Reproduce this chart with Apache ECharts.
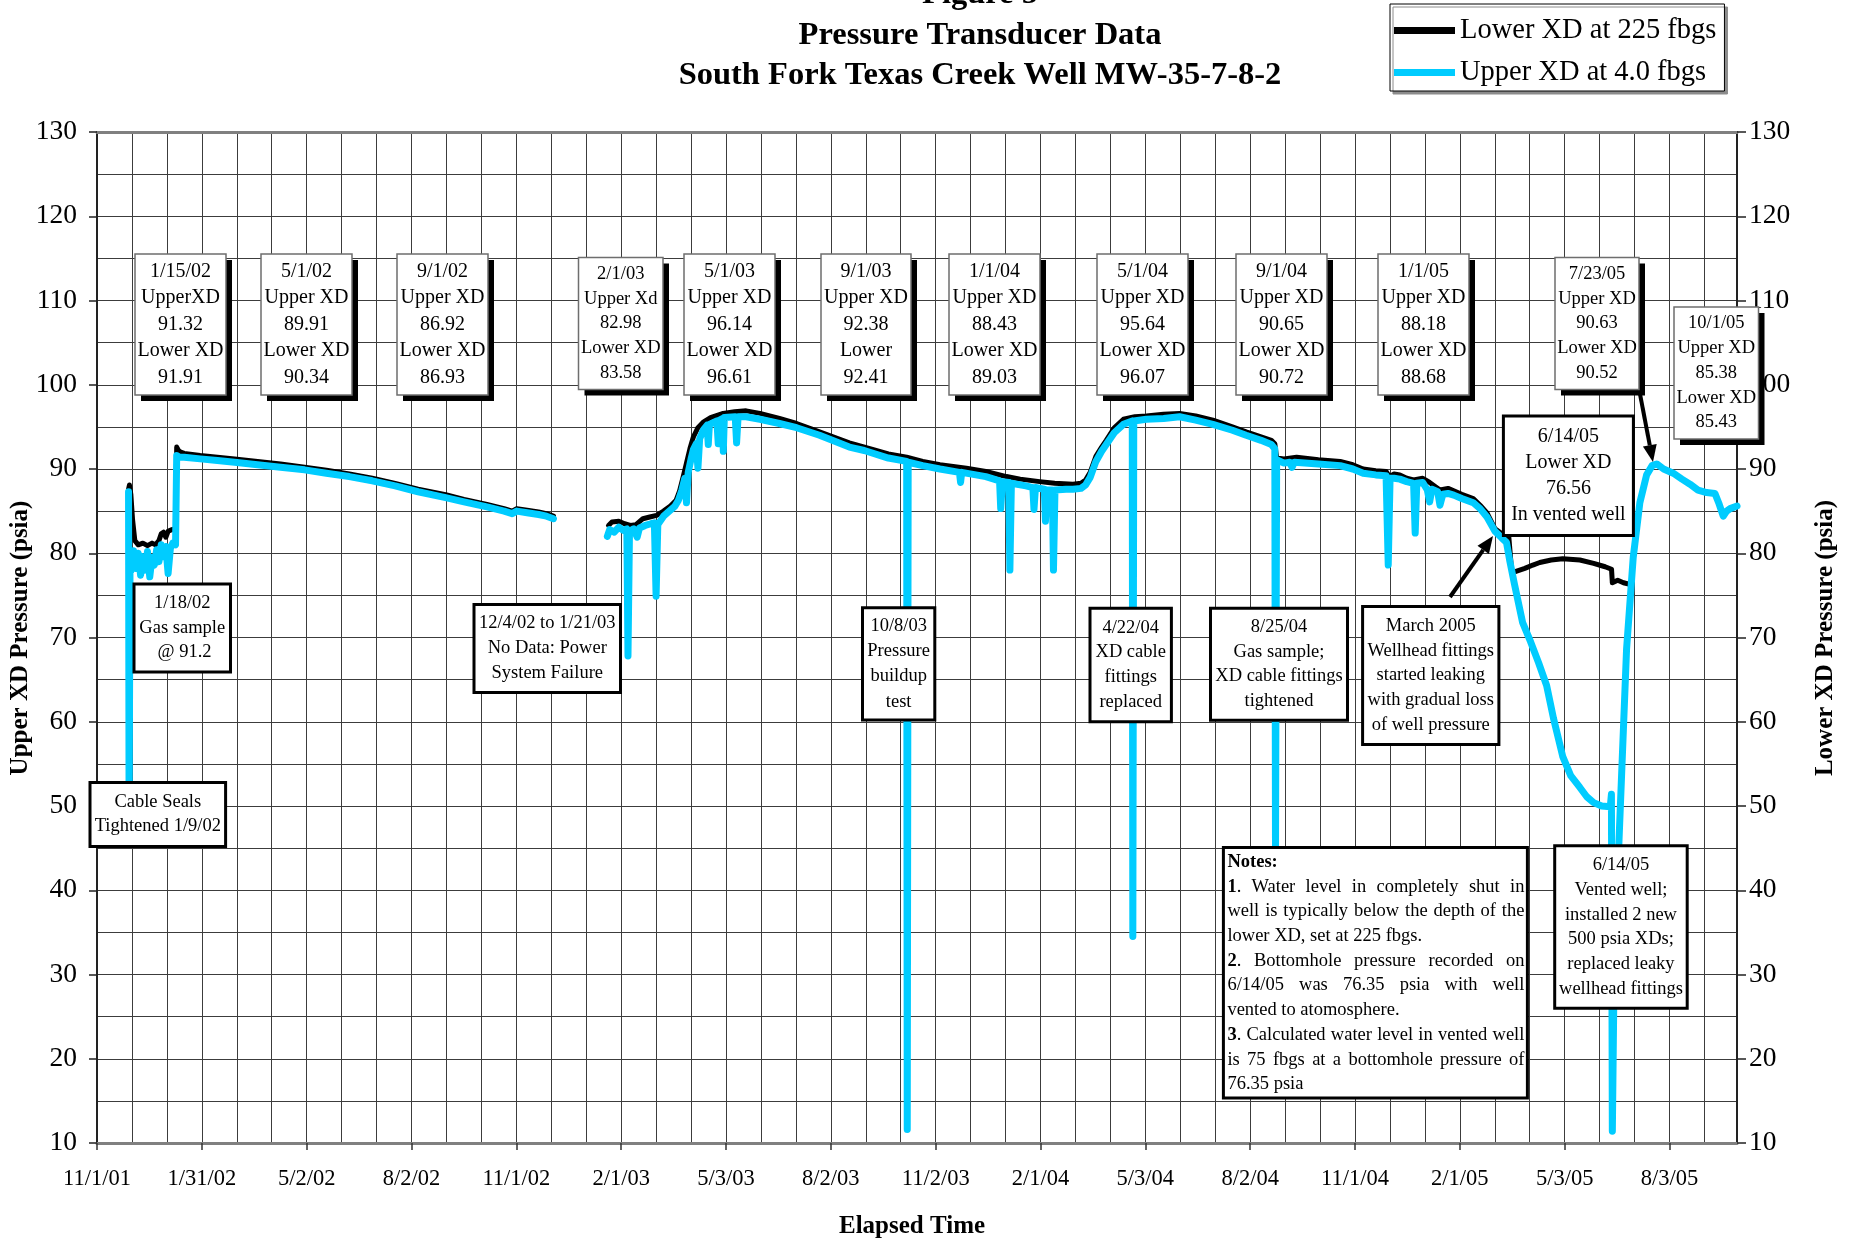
<!DOCTYPE html>
<html>
<head>
<meta charset="utf-8">
<title>Pressure Transducer Data</title>
<script src="https://cdn.jsdelivr.net/npm/echarts@6/dist/echarts.min.js"></script>
<style>
html, body { margin: 0; padding: 0; background: #fff; }
#chart { width: 1853px; height: 1238px; }
</style>
</head>
<body>
<div id="chart"></div>
<script>
// x = days after 11/1/01, y = psia
// 1 Lower XD (225 fbgs), before and after the power failure gap
var lowerXd2002 = [
	[27.5, 87.6], [28.3, 88.1], [29.5, 87.0], [31, 84.0], [33, 81.5], [36, 81.0], [40, 81.2],
	[44, 80.9], [48, 81.2], [51, 81.0], [54, 81.5], [56, 82.3], [58, 82.5], [60, 81.9],
	[62, 82.6], [65, 82.8], [68.5, 82.9], [69.5, 92.6], [71, 92.2], [73, 92.0], [76, 91.85],
	[90, 91.6], [105, 91.4], [120, 91.2], [140, 90.9], [160, 90.6], [181, 90.2], [200, 89.85],
	[220, 89.4], [240, 88.9], [260, 88.3], [280, 87.6], [304, 86.95], [320, 86.4], [340, 85.8],
	[355, 85.3], [362, 85.0], [366, 85.3], [375, 85.1], [385, 84.9], [392, 84.7], [398, 84.4]
];
var lowerXd2003 = [
	[446, 83.3], [449, 83.7], [455, 83.8], [460, 83.5], [465, 83.3], [470, 83.4], [476, 84.1],
	[482, 84.3], [488, 84.5], [494, 85.0], [500, 85.6], [505, 86.3], [508, 87.4], [511, 89.0],
	[514, 90.7], [517, 92.4], [520, 93.8], [524, 94.9], [529, 95.6], [535, 96.1], [546, 96.6],
	[556, 96.8], [566, 96.9], [578, 96.6], [595, 96.0], [610, 95.4], [630, 94.4], [656, 93.1],
	[677, 92.3], [690, 91.8], [706, 91.4], [720, 90.9], [735, 90.5], [758, 90.1], [775, 89.7],
	[793, 89.1], [805, 88.8], [822, 88.5], [835, 88.3], [851, 88.2], [858, 88.3], [862, 88.7],
	[866, 89.6], [871, 91.5], [876, 92.6], [880, 93.4], [887, 94.9], [895, 95.9], [905, 96.2],
	[915, 96.3], [930, 96.5], [944, 96.6], [958, 96.3], [973, 95.8], [990, 95.0], [1002, 94.4],
	[1015, 93.8], [1024, 93.4], [1027, 93.0], [1028.6, 91.3], [1035, 91.2], [1046, 91.4],
	[1065, 91.1], [1084, 90.9], [1095, 90.5], [1104, 90.0], [1115, 89.8], [1124, 89.7],
	[1127, 89.1], [1131, 89.4], [1136, 89.3], [1142, 88.9], [1148, 88.7], [1156, 88.9],
	[1162, 88.4], [1171, 87.5], [1178, 87.7], [1183, 87.4], [1190, 87.0], [1200, 86.5],
	[1206, 85.7], [1212, 84.8], [1219, 82.9], [1225, 82.3], [1231, 82.0], [1233.5, 77.9],
	[1236, 77.8], [1245, 78.2], [1252, 78.6], [1258, 78.9], [1268, 79.2], [1278, 79.35],
	[1293, 79.2], [1305, 78.8], [1315, 78.4], [1320.6, 78.1], [1321.3, 76.5], [1326, 76.8],
	[1331, 76.5], [1336.6, 76.3]
];
// 2 Upper XD (4.0 fbgs)
var upperXd2002 = [
	[27.5, 87.3], [28.0, 48.0], [28.8, 79.5], [30, 78.0], [32, 80.3], [34, 78.2], [36, 80.0],
	[38, 77.4], [40, 79.6], [42, 78.0], [44, 80.2], [46, 77.2], [48, 79.5], [50, 78.6],
	[52, 80.4], [54, 79.0], [56, 81.0], [58, 79.6], [60, 80.8], [62, 77.6], [64, 80.6],
	[66, 81.2], [68.5, 81.0], [69.5, 91.6], [72, 91.4], [76, 91.4], [90, 91.2], [105, 91.0],
	[120, 90.8], [140, 90.5], [160, 90.2], [181, 89.9], [200, 89.5], [220, 89.1], [240, 88.6],
	[260, 88.0], [280, 87.3], [304, 86.6], [320, 86.1], [340, 85.5], [355, 85.0], [362, 84.7],
	[366, 85.0], [375, 84.8], [385, 84.6], [392, 84.4], [398, 84.1]
];
var upperXd2003 = [
	[445, 82.0], [447, 82.8], [451, 82.5], [455, 83.1], [459, 82.7], [462, 82.9], [463, 67.8],
	[464.3, 82.6], [468, 82.9], [471, 81.9], [473, 83.0], [478, 83.3], [483, 83.5], [486, 83.6],
	[487.5, 74.9], [489, 83.4], [494, 84.4], [499, 85.0], [504, 85.6], [507, 86.3], [510, 87.5],
	[512.5, 88.9], [514, 86.0], [515.5, 89.6], [518, 91.2], [520, 92.3], [522.5, 93.0],
	[524, 90.1], [525.5, 93.6], [529, 94.7], [532, 95.2], [533, 92.9], [534, 95.3],
	[540.5, 95.7], [541.7, 93.0], [543, 95.8], [545.5, 96.0], [546.1, 92.1], [547, 96.1],
	[556.5, 96.2], [557.7, 93.1], [559, 96.2], [566, 96.2], [578, 95.9], [595, 95.4],
	[610, 94.9], [630, 94.0], [656, 92.6], [669, 92.2], [690, 91.3], [706, 90.9], [706.5, 11.6],
	[707.3, 90.8], [720, 90.4], [735, 90.0], [752, 89.6], [753, 88.4], [754, 89.6], [775, 89.1],
	[787, 88.6], [788, 85.3], [789.5, 88.5], [795, 88.4], [796, 78.0], [797.3, 88.3],
	[810, 88.0], [816, 87.8], [817, 85.2], [818.3, 87.8], [826, 87.6], [827, 83.8],
	[828.3, 87.5], [833, 87.5], [834, 78.0], [835.3, 87.5], [845, 87.6], [851, 87.6],
	[858, 87.7], [862, 88.1], [866, 89.0], [871, 90.9], [876, 92.1], [880, 92.9], [887, 94.3],
	[895, 95.3], [902.7, 95.7], [903.2, 34.5], [904, 95.7], [915, 95.9], [930, 96.0],
	[944, 96.2], [958, 95.8], [973, 95.3], [990, 94.6], [1002, 94.0], [1015, 93.4],
	[1024, 92.9], [1027, 92.4], [1027.6, 44.0], [1028.6, 91.1], [1035, 90.7], [1040, 90.8],
	[1042, 90.2], [1044, 90.8], [1065, 90.6], [1084, 90.4], [1095, 90.0], [1104, 89.5],
	[1115, 89.3], [1124, 89.2], [1125.9, 78.6], [1127.5, 88.9], [1131, 88.9], [1136, 88.8],
	[1142, 88.5], [1148, 88.3], [1149.4, 82.4], [1150.8, 88.3], [1156, 88.4], [1160, 87.5],
	[1162, 86.1], [1164, 87.6], [1169, 87.3], [1171, 85.7], [1173.5, 87.0], [1178, 87.1],
	[1183, 86.9], [1190, 86.5], [1200, 86.0], [1206, 85.3], [1212, 84.3], [1219, 82.6],
	[1225, 81.8], [1229, 81.3], [1232, 79.0], [1236, 76.3], [1243, 71.8], [1250, 69.5],
	[1257, 67.0], [1264, 64.3], [1270, 60.4], [1278, 55.9], [1285, 53.6], [1293, 52.2],
	[1299, 51.1], [1305, 50.4], [1312, 50.0], [1319.5, 49.9], [1320.5, 51.4], [1321.3, 11.4],
	[1322.5, 26.0], [1327, 45.5], [1333.7, 68.6], [1339.5, 79.5], [1345.3, 86.0],
	[1351.2, 89.3], [1356, 90.4], [1360, 90.6], [1366, 90.0], [1374.4, 89.5], [1382, 88.8],
	[1389, 88.2], [1396, 87.5], [1403.5, 87.2], [1410.8, 87.1], [1414, 86.0], [1418, 84.4],
	[1421, 85.0], [1424, 85.3], [1430, 85.6]
];
// 3 no data between 12/4/02 and 1/21/03
var gapDay = 420;

// axis ticks
var xMax = 1430;
var xInterval = 91.41;
var xTickLabels = ['11/1/01', '1/31/02', '5/2/02', '8/2/02', '11/1/02', '2/1/03', '5/3/03',
	'8/2/03', '11/2/03', '2/1/04', '5/3/04', '8/2/04', '11/1/04', '2/1/05', '5/3/05', '8/3/05'];
var yMin = 10, yMax = 130, yInterval = 10;

// annotation boxes (pixel layout)
var valueNotes = [
	{ x: 135, y: 254, w: 91, h: 141, size: 20, lh: 26.5, lines: ['1/15/02', 'UpperXD', '91.32', 'Lower XD', '91.91'] },
	{ x: 261, y: 254, w: 91, h: 141, size: 20, lh: 26.5, lines: ['5/1/02', 'Upper XD', '89.91', 'Lower XD', '90.34'] },
	{ x: 397, y: 254, w: 91, h: 141, size: 20, lh: 26.5, lines: ['9/1/02', 'Upper XD', '86.92', 'Lower XD', '86.93'] },
	{ x: 578.5, y: 257.5, w: 84.5, h: 132, size: 18.5, lh: 24.75, lines: ['2/1/03', 'Upper Xd', '82.98', 'Lower XD', '83.58'] },
	{ x: 684, y: 254, w: 91, h: 141, size: 20, lh: 26.5, lines: ['5/1/03', 'Upper XD', '96.14', 'Lower XD', '96.61'] },
	{ x: 821, y: 254, w: 90, h: 141, size: 20, lh: 26.5, lines: ['9/1/03', 'Upper XD', '92.38', 'Lower', '92.41'] },
	{ x: 949, y: 254, w: 91, h: 141, size: 20, lh: 26.5, lines: ['1/1/04', 'Upper XD', '88.43', 'Lower XD', '89.03'] },
	{ x: 1097, y: 254, w: 91, h: 141, size: 20, lh: 26.5, lines: ['5/1/04', 'Upper XD', '95.64', 'Lower XD', '96.07'] },
	{ x: 1236, y: 254, w: 91, h: 141, size: 20, lh: 26.5, lines: ['9/1/04', 'Upper XD', '90.65', 'Lower XD', '90.72'] },
	{ x: 1378, y: 254, w: 91, h: 141, size: 20, lh: 26.5, lines: ['1/1/05', 'Upper XD', '88.18', 'Lower XD', '88.68'] },
	{ x: 1555, y: 257.5, w: 84, h: 132, size: 18.5, lh: 24.75, lines: ['7/23/05', 'Upper XD', '90.63', 'Lower XD', '90.52'] },
	{ x: 1674, y: 307, w: 84.5, h: 132, size: 18.5, lh: 24.75, lines: ['10/1/05', 'Upper XD', '85.38', 'Lower XD', '85.43'] }
];
var eventNotes = [
	{ x: 134, y: 584, w: 96.5, h: 88, size: 18.5, lh: 24.5, lines: ['1/18/02', 'Gas sample', ' @ 91.2'] },
	{ x: 474, y: 604.5, w: 146.5, h: 88, size: 18.5, lh: 24.9, lines: ['12/4/02 to 1/21/03', 'No Data: Power', 'System Failure'] },
	{ x: 862.5, y: 607.7, w: 72.3, h: 112.3, size: 18.5, lh: 25.2, lines: ['10/8/03', 'Pressure', 'buildup', 'test'] },
	{ x: 1090, y: 608.3, w: 81.4, h: 113.4, size: 18.5, lh: 24.8, lines: ['4/22/04', 'XD cable', 'fittings', 'replaced'] },
	{ x: 1210.5, y: 608.2, w: 137, h: 112, size: 18.5, lh: 24.6, lines: ['8/25/04', 'Gas sample;', 'XD cable fittings', 'tightened'] },
	{ x: 1362.6, y: 606.6, w: 136.3, h: 137.8, size: 18.5, lh: 24.6, lines: ['March 2005', 'Wellhead fittings', 'started leaking', 'with gradual loss', 'of well pressure'] },
	{ x: 90, y: 782.4, w: 135.6, h: 64.1, size: 18.5, lh: 24, lines: ['Cable Seals', 'Tightened 1/9/02'] },
	{ x: 1503.4, y: 416, w: 130, h: 119.4, size: 20, lh: 26, lines: ['6/14/05', 'Lower XD', '76.56', 'In vented well'] },
	{ x: 1554.7, y: 845.8, w: 132.5, h: 162.4, size: 18.5, lh: 24.7, lines: ['6/14/05', 'Vented well;', 'installed 2 new', '500 psia XDs;', 'replaced leaky', 'wellhead fittings'] }
];
var notesBox = { x: 1223.4, y: 847.6, w: 304, h: 250.4 };
var notesLines = [
	{ text: 'Notes:', bold: true },
	{ text: '1. Water level in completely shut in', justify: true },
	{ text: 'well is typically below the depth of the', justify: true },
	{ text: 'lower XD, set at 225 fbgs.' },
	{ text: '2. Bottomhole pressure recorded on', justify: true },
	{ text: '6/14/05 was 76.35 psia with well', justify: true },
	{ text: 'vented to atomosphere.' },
	{ text: '3. Calculated water level in vented well', justify: true },
	{ text: 'is 75 fbgs at a bottomhole pressure of', justify: true },
	{ text: '76.35 psia' }
];

var SERIF = '"Liberation Serif", "Times New Roman", serif';

function withGap(a, b) {
	return a.concat([[gapDay, null]], b);
}

function textEl(x, y, str, font, align, z) {
	return {
		type: 'text', x: x, y: y, z: z || 52,
		style: {
			text: str, font: font, fill: '#000',
			align: align || 'center', textAlign: align || 'center',
			verticalAlign: 'middle', textVerticalAlign: 'middle'
		}
	};
}

// box with black drop shadow or with heavy border
function noteBox(b, shadow) {
	var els = [];
	if (shadow) {
		els.push({ type: 'rect', z: 50, shape: { x: b.x + 6, y: b.y + 6, width: b.w, height: b.h }, style: { fill: '#000' } });
	}
	els.push({
		type: 'rect', z: 51, shape: { x: b.x, y: b.y, width: b.w, height: b.h },
		style: { fill: '#fff', stroke: shadow ? '#6e6e6e' : '#000', lineWidth: shadow ? 1.5 : 3 }
	});
	els.push({
		type: 'text', x: b.x + b.w / 2, y: b.y + b.h / 2, z: 52,
		style: {
			text: b.lines.join('\n'), font: b.size + 'px ' + SERIF, fill: '#000', lineHeight: b.lh,
			align: 'center', textAlign: 'center', verticalAlign: 'middle', textVerticalAlign: 'middle'
		}
	});
	return els;
}

var measureCtx = document.createElement('canvas').getContext('2d');
function textWidth(str, font) {
	measureCtx.font = font;
	return measureCtx.measureText(str).width;
}

// notes box, with justified lines like the original
function notesElements() {
	var els = [];
	var b = notesBox;
	els.push({
		type: 'rect', z: 51, shape: { x: b.x, y: b.y, width: b.w, height: b.h },
		style: { fill: '#fff', stroke: '#000', lineWidth: 3 }
	});
	var reg = '18.5px ' + SERIF, bold = 'bold 18.5px ' + SERIF;
	var x0 = b.x + 4, x1 = b.x + b.w - 3;
	notesLines.forEach(function (ln, i) {
		var y = b.y + 14.5 + i * 24.7;
		var words = ln.text.split(' ').map(function (w) {
			var pieces;
			if (/^\d\.$/.test(w)) {
				pieces = [{ s: w.charAt(0), f: bold }, { s: '.', f: reg }];
			} else {
				pieces = [{ s: w, f: ln.bold ? bold : reg }];
			}
			var wd = 0;
			pieces.forEach(function (p) { p.w = textWidth(p.s, p.f); wd += p.w; });
			return { pieces: pieces, w: wd };
		});
		var total = 0;
		words.forEach(function (w) { total += w.w; });
		var gap = textWidth(' ', reg);
		if (ln.justify && words.length > 1) {
			gap = (x1 - x0 - total) / (words.length - 1);
		}
		var x = x0;
		words.forEach(function (w) {
			var px = x;
			w.pieces.forEach(function (p) {
				els.push(textEl(px, y, p.s, p.f, 'left'));
				px += p.w;
			});
			x += w.w + gap;
		});
	});
	return els;
}

function arrow(x1, y1, x2, y2) {
	var ang = Math.atan2(y2 - y1, x2 - x1), len = 17, half = 7;
	var bx = x2 - len * Math.cos(ang), by = y2 - len * Math.sin(ang);
	var nx = -Math.sin(ang) * half, ny = Math.cos(ang) * half;
	return [
		{ type: 'line', z: 53, shape: { x1: x1, y1: y1, x2: bx, y2: by }, style: { stroke: '#000', lineWidth: 4 } },
		{ type: 'polygon', z: 53, shape: { points: [[x2, y2], [bx + nx, by + ny], [bx - nx, by - ny]] }, style: { fill: '#000' } }
	];
}

var graphics = [];
valueNotes.forEach(function (b) { graphics = graphics.concat(noteBox(b, true)); });
eventNotes.forEach(function (b) { graphics = graphics.concat(noteBox(b, false)); });
graphics = graphics.concat(notesElements());
graphics = graphics.concat(arrow(1450, 597, 1493, 536));
graphics = graphics.concat(arrow(1640, 394, 1653, 462));
// titles and axis names
graphics.push(textEl(980, -5, 'Figure 5', 'bold 32.5px ' + SERIF, 'center', 60));
graphics.push(textEl(980, 35.5, 'Pressure Transducer Data', 'bold 32.5px ' + SERIF, 'center', 60));
graphics.push(textEl(980, 75.5, 'South Fork Texas Creek Well MW-35-7-8-2', 'bold 32.5px ' + SERIF, 'center', 60));
graphics.push(textEl(912, 1226.5, 'Elapsed Time', 'bold 25px ' + SERIF, 'center', 60));
var leftName = textEl(21, 638, 'Upper XD Pressure (psia)', 'bold 25px ' + SERIF, 'center', 60);
leftName.rotation = Math.PI / 2;
graphics.push(leftName);
var rightName = textEl(1826, 638, 'Lower XD Pressure (psia)', 'bold 25px ' + SERIF, 'center', 60);
rightName.rotation = Math.PI / 2;
graphics.push(rightName);

var gridLine = { color: '#3c3c3c', width: 1 };

var chart = echarts.init(document.getElementById('chart'));
var option = {
	animation: false,
	backgroundColor: '#fff',
	textStyle: { fontFamily: SERIF, color: '#000' },
	grid: { left: 97, right: 116, top: 132, bottom: 95, containLabel: false, outerBoundsMode: 'none' },
	legend: {
		orient: 'vertical', left: 1390, top: 4,
		icon: 'rect', itemWidth: 61, itemHeight: 7, itemGap: 13,
		padding: [12, 8, 4, 4],
		backgroundColor: '#fff', borderColor: '#000', borderWidth: 1,
		shadowColor: '#8c8c8c', shadowOffsetX: 3, shadowOffsetY: 3, shadowBlur: 0,
		selectedMode: false,
		textStyle: { fontSize: 28.5, color: '#000', fontFamily: SERIF },
		data: ['Lower XD at 225 fbgs', 'Upper XD at 4.0 fbgs']
	},
	xAxis: [{
		type: 'value', min: 0, max: xMax, interval: xInterval,
		axisLine: { show: true, onZero: false, lineStyle: { color: '#808080', width: 3 } },
		axisTick: { show: true, length: 7, lineStyle: { color: '#333', width: 1.5 } },
		axisLabel: {
			fontSize: 22.5, color: '#000', fontFamily: SERIF, margin: 25,
			showMinLabel: true, showMaxLabel: false,
			formatter: function (v) {
				var i = Math.round(v / xInterval);
				return Math.abs(i * xInterval - v) < 0.01 && xTickLabels[i] ? xTickLabels[i] : '';
			}
		},
		splitLine: { show: true, lineStyle: gridLine },
		minorTick: { show: false, splitNumber: 3 },
		minorSplitLine: { show: true, lineStyle: gridLine }
	}, {
		type: 'value', position: 'top', min: 0, max: xMax, interval: xInterval,
		axisLine: { show: true, onZero: false, lineStyle: { color: '#808080', width: 3 } },
		axisTick: { show: false }, axisLabel: { show: false }, splitLine: { show: false }
	}],
	yAxis: [{
		type: 'value', position: 'left', min: yMin, max: yMax, interval: yInterval,
		axisLine: { show: true, onZero: false, lineStyle: { color: '#222', width: 2 } },
		axisTick: { show: true, length: 8, lineStyle: { color: '#222', width: 1.5 } },
		axisLabel: { fontSize: 27.5, color: '#000', fontFamily: SERIF, margin: 20 },
		splitLine: { show: true, lineStyle: gridLine },
		minorTick: { show: false, splitNumber: 2 },
		minorSplitLine: { show: true, lineStyle: gridLine }
	}, {
		type: 'value', position: 'right', min: yMin, max: yMax, interval: yInterval,
		axisLine: { show: true, onZero: false, lineStyle: { color: '#222', width: 2 } },
		axisTick: { show: true, length: 9, lineStyle: { color: '#222', width: 1.5 } },
		axisLabel: { fontSize: 27.5, color: '#000', fontFamily: SERIF, margin: 12 },
		splitLine: { show: false }
	}],
	series: [{
		name: 'Lower XD at 225 fbgs', type: 'line', yAxisIndex: 1, z: 3,
		data: withGap(lowerXd2002, lowerXd2003),
		showSymbol: false, symbol: 'none', connectNulls: false,
		itemStyle: { color: '#000' },
		lineStyle: { color: '#000', width: 5, cap: 'round', join: 'round' }
	}, {
		name: 'Upper XD at 4.0 fbgs', type: 'line', yAxisIndex: 0, z: 4,
		data: withGap(upperXd2002, upperXd2003),
		showSymbol: false, symbol: 'none', connectNulls: false,
		itemStyle: { color: '#00ccff' },
		lineStyle: { color: '#00ccff', width: 7, cap: 'round', join: 'round' }
	}],
	graphic: { elements: graphics }
};
chart.setOption(option);
</script>
</body>
</html>
